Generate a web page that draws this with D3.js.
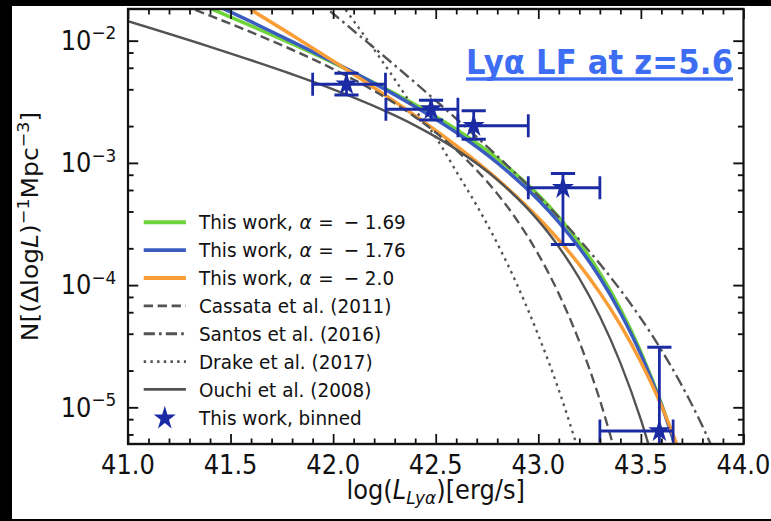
<!DOCTYPE html>
<html>
<head>
<meta charset="utf-8">
<script src="https://cdn.jsdelivr.net/npm/d3@7"></script>
<style>
  html, body { margin: 0; padding: 0; background: #000; }
  svg { display: block; }
  text { font-family: "DejaVu Sans", sans-serif; fill: #111; }
</style>
</head>
<body>
<svg id="chart" width="771" height="521"></svg>
<script>
// ---------------- tick positions ----------------
const xMajorTicks = [41.0, 41.5, 42.0, 42.5, 43.0, 43.5, 44.0];
const xMinorTicks = [41.1, 41.2, 41.3, 41.4, 41.6, 41.7, 41.8, 41.9, 42.1, 42.2, 42.3, 42.4,
                     42.6, 42.7, 42.8, 42.9, 43.1, 43.2, 43.3, 43.4, 43.6, 43.7, 43.8, 43.9];
const yMajorTicks = [1e-5, 1e-4, 1e-3, 1e-2];
const yMajorExp   = ["\u22125", "\u22124", "\u22123", "\u22122"];
const yMinorTicks = [6e-6, 8e-6, 2e-5, 4e-5, 6e-5, 8e-5, 2e-4, 4e-4, 6e-4, 8e-4,
                     2e-3, 4e-3, 6e-3, 8e-3];

// ---------------- luminosity function curves: log L  vs  N ----------------
const greenL   = [41.4, 41.6, 41.8, 42.0, 42.2, 42.4, 42.6, 42.8, 43.0, 43.1, 43.2, 43.3, 43.4, 43.5, 43.6, 43.7];
const greenN   = [1.841e-2, 1.321e-2, 9.40e-3, 6.59e-3, 4.52e-3, 3.00e-3, 1.88e-3, 1.086e-3, 5.47e-4, 3.60e-4, 2.22e-4, 1.254e-4, 6.38e-5, 2.84e-5, 1.07e-5, 3.25e-6];

const blueL    = [41.4, 41.6, 41.8, 42.0, 42.2, 42.4, 42.6, 42.8, 43.0, 43.1, 43.2, 43.3, 43.4, 43.5, 43.6, 43.7];
const blueN    = [2.056e-2, 1.429e-2, 9.84e-3, 6.70e-3, 4.47e-3, 2.88e-3, 1.77e-3, 1.00e-3, 4.98e-4, 3.27e-4, 2.02e-4, 1.151e-4, 5.93e-5, 2.70e-5, 1.045e-5, 3.31e-6];

const orangeL  = [41.5, 41.6, 41.8, 42.0, 42.2, 42.4, 42.6, 42.8, 43.0, 43.1, 43.2, 43.3, 43.4, 43.5, 43.6, 43.7];
const orangeN  = [2.265e-2, 1.789e-2, 1.109e-2, 6.82e-3, 4.12e-3, 2.43e-3, 1.38e-3, 7.35e-4, 3.55e-4, 2.34e-4, 1.467e-4, 8.66e-5, 4.73e-5, 2.34e-5, 1.029e-5, 3.87e-6];

const cassataL = [41.2, 41.4, 41.6, 41.8, 42.0, 42.2, 42.4, 42.6, 42.7, 42.8, 42.9, 43.0, 43.1, 43.2, 43.3, 43.4];
const cassataN = [2.158e-2, 1.601e-2, 1.173e-2, 8.43e-3, 5.86e-3, 3.88e-3, 2.37e-3, 1.272e-3, 8.70e-4, 5.59e-4, 3.32e-4, 1.786e-4, 8.48e-5, 3.44e-5, 1.146e-5, 2.97e-6];

const santosL  = [41.9, 42.0, 42.2, 42.4, 42.6, 42.8, 43.0, 43.1, 43.2, 43.3, 43.4, 43.5, 43.6, 43.7, 43.8, 43.9];
const santosN  = [2.286e-2, 1.661e-2, 8.72e-3, 4.52e-3, 2.30e-3, 1.138e-3, 5.37e-4, 3.59e-4, 2.35e-4, 1.491e-4, 9.12e-5, 5.33e-5, 2.94e-5, 1.503e-5, 7.01e-6, 2.92e-6];

const drakeL   = [42.0, 42.1, 42.2, 42.3, 42.4, 42.5, 42.6, 42.7, 42.8, 42.9, 43.0, 43.1, 43.2, 43.3];
const drakeN   = [2.461e-2, 1.452e-2, 8.44e-3, 4.83e-3, 2.71e-3, 1.622e-3, 8.51e-4, 4.47e-4, 2.19e-4, 9.77e-5, 3.89e-5, 1.38e-5, 4.17e-6, 1.143e-6];

const ouchiL   = [40.9, 41.0, 41.4, 41.8, 42.0, 42.2, 42.4, 42.6, 42.8, 43.0, 43.1, 43.2, 43.3, 43.4, 43.5, 43.6];
const ouchiN   = [1.622e-2, 1.442e-2, 8.90e-3, 5.31e-3, 4.00e-3, 2.91e-3, 2.02e-3, 1.29e-3, 7.29e-4, 3.37e-4, 2.054e-4, 1.134e-4, 5.53e-5, 2.31e-5, 7.91e-6, 2.12e-6];

// ---------------- binned measurements ----------------
const binL     = [42.065, 42.477, 42.685, 43.120, 43.590];
const binLlo   = [41.900, 42.257, 42.608, 42.951, 43.300];
const binLhi   = [42.255, 42.608, 42.951, 43.300, 43.657];
const binN     = [4.40e-3, 2.75e-3, 2.01e-3, 6.25e-4, 6.4e-6];
const binNlo   = [3.60e-3, 2.24e-3, 1.56e-3, 2.15e-4, 2.0e-6];
const binNhi   = [5.40e-3, 3.25e-3, 2.67e-3, 8.20e-4, 3.10e-5];

// ---------------- legend ----------------
// pieces of each entry: plain text, then (optionally) italic alpha, "=", minus sign, value
const legendLabels = [
  ["This work, ", "\u03b1", "=", "\u2212", "1.69"],
  ["This work, ", "\u03b1", "=", "\u2212", "1.76"],
  ["This work, ", "\u03b1", "=", "\u2212", "2.0"],
  ["Cassata et al. (2011)"],
  ["Santos et al. (2016)"],
  ["Drake et al. (2017)"],
  ["Ouchi et al. (2008)"],
  ["This work, binned"]
];

// ---------------- drawing ----------------
const SX = 0.93;                 // the whole figure is slightly narrowed horizontally
const VW = 771 / SX;
const P = { l: 128 / SX, r: 743.5 / SX, t: 9, b: 444 };

const svg = d3.select("#chart");
svg.append("rect").attr("width", 771).attr("height", 521).attr("fill", "#000");
const root = svg.append("g").attr("transform", `scale(${SX},1)`);
root.append("rect")
  .attr("x", 12 / SX).attr("y", 6)
  .attr("width", VW - 12 / SX).attr("height", 513)
  .attr("fill", "#fff");

const x = d3.scaleLinear().domain([41, 44]).range([P.l, P.r]);
const y = d3.scaleLog().domain([5.01e-6, 1.816e-2]).range([P.b, P.t]);

root.append("clipPath").attr("id", "plotclip")
  .append("rect").attr("x", P.l).attr("y", P.t)
  .attr("width", P.r - P.l).attr("height", P.b - P.t);

const plotArea = root.append("g").attr("clip-path", "url(#plotclip)");

const line = d3.line()
  .x(d => x(d[0])).y(d => y(d[1]))
  .curve(d3.curveMonotoneX);

const GREY = "#535353";
const series = [
  { L: greenL,   N: greenN,   color: "#6fd43a", width: 3.6, dash: null },
  { L: blueL,    N: blueN,    color: "#3a5cc0", width: 3.6, dash: null },
  { L: orangeL,  N: orangeN,  color: "#f99d36", width: 3.6, dash: null },
  { L: cassataL, N: cassataN, color: GREY, width: 2.5, dash: "10,5" },
  { L: santosL,  N: santosN,  color: GREY, width: 2.5, dash: "12,4.5,2.8,4.5" },
  { L: drakeL,   N: drakeN,   color: GREY, width: 2.5, dash: "2.6,4.6" },
  { L: ouchiL,   N: ouchiN,   color: GREY, width: 2.5, dash: null }
];

series.forEach(s => {
  plotArea.append("path")
    .datum(s.L.map((v, i) => [v, s.N[i]]))
    .attr("d", line)
    .attr("fill", "none")
    .attr("stroke", s.color)
    .attr("stroke-width", s.width)
    .attr("stroke-dasharray", s.dash);
});

// error bars + stars
const NAVY = "#1b2ba3";
const capV = 13;   // half length of caps on vertical bars
const capH = 11.5; // half length of caps on horizontal bars
const eb = plotArea.append("g").attr("stroke", NAVY).attr("stroke-width", 3).attr("fill", "none");
binL.forEach((L, i) => {
  const cx = x(L), cy = y(binN[i]);
  const x0 = x(binLlo[i]), x1 = x(binLhi[i]);
  const y0 = y(binNlo[i]), y1 = y(binNhi[i]);
  eb.append("line").attr("x1", x0).attr("x2", x1).attr("y1", cy).attr("y2", cy);
  eb.append("line").attr("x1", cx).attr("x2", cx).attr("y1", y0).attr("y2", y1);
  [x0, x1].forEach(xx => eb.append("line").attr("x1", xx).attr("x2", xx)
    .attr("y1", cy - capH).attr("y2", cy + capH));
  [y0, y1].forEach(yy => eb.append("line").attr("x1", cx - capV).attr("x2", cx + capV)
    .attr("y1", yy).attr("y2", yy));
});
const star = d3.symbol().type(d3.symbolStar).size(175);
plotArea.append("g").selectAll("path").data(binL).join("path")
  .attr("d", star)
  .attr("transform", (L, i) => `translate(${x(L)},${y(binN[i])})`)
  .attr("fill", NAVY);

// ---------------- axes (ticks pointing inwards on all four sides) ----------------
function tickLayer(axis, ticks, size, transform) {
  const g = root.append("g").attr("transform", transform)
    .call(axis.tickValues(ticks).tickSize(-size).tickFormat(""));
  g.select(".domain").remove();
  g.selectAll(".tick line").attr("stroke", "#111").attr("stroke-width", 1.9);
  g.selectAll("text").remove();
}
tickLayer(d3.axisBottom(x), xMajorTicks, 10, `translate(0,${P.b})`);
tickLayer(d3.axisBottom(x), xMinorTicks, 5.5, `translate(0,${P.b})`);
tickLayer(d3.axisTop(x), xMajorTicks, 10, `translate(0,${P.t})`);
tickLayer(d3.axisTop(x), xMinorTicks, 5.5, `translate(0,${P.t})`);
tickLayer(d3.axisLeft(y), yMajorTicks, 11, `translate(${P.l},0)`);
tickLayer(d3.axisLeft(y), yMinorTicks, 6, `translate(${P.l},0)`);
tickLayer(d3.axisRight(y), yMajorTicks, 11, `translate(${P.r},0)`);
tickLayer(d3.axisRight(y), yMinorTicks, 6, `translate(${P.r},0)`);

root.append("rect")
  .attr("x", P.l).attr("y", P.t)
  .attr("width", P.r - P.l).attr("height", P.b - P.t)
  .attr("fill", "none").attr("stroke", "#111").attr("stroke-width", 2.4);

// tick labels
root.append("g").selectAll("text").data(xMajorTicks).join("text")
  .attr("x", d => x(d)).attr("y", 474)
  .attr("text-anchor", "middle")
  .attr("font-size", 26)
  .text(d => d.toFixed(1));

const yl = root.append("g").selectAll("text").data(yMajorTicks).join("text")
  .attr("x", P.l - 12.5).attr("y", d => y(d) + 9.3)
  .attr("text-anchor", "end")
  .attr("font-size", 26);
yl.append("tspan").text("10");
yl.append("tspan").attr("dy", -10.5).attr("font-size", 18.2).text((d, i) => yMajorExp[i]);

// axis titles
const xt = root.append("text")
  .attr("x", (P.l + P.r) / 2).attr("y", 499)
  .attr("text-anchor", "middle").attr("font-size", 26);
xt.append("tspan").text("log(");
xt.append("tspan").attr("font-style", "italic").text("L");
xt.append("tspan").attr("font-style", "italic").attr("font-size", 18.2).attr("dy", 5).text("Ly\u03b1");
xt.append("tspan").attr("dy", -5).text(")[erg/s]");

const ytt = root.append("text")
  .attr("transform", `translate(${38.3 / SX},226.5) rotate(-90)`)
  .attr("text-anchor", "middle").attr("font-size", 25);
ytt.append("tspan").text("N[(\u0394log");
ytt.append("tspan").attr("font-style", "italic").text("L");
ytt.append("tspan").text(")");
ytt.append("tspan").attr("dy", -10).attr("font-size", 17.5).text("\u22121");
ytt.append("tspan").attr("dy", 10).text("Mpc");
ytt.append("tspan").attr("dy", -10).attr("font-size", 17.5).text("\u22123");
ytt.append("tspan").attr("dy", 10).text("]");

// ---------------- legend ----------------
const legX0 = 143.7 / SX, legX1 = 185.9 / SX, legTX = 198.9 / SX;
const legY0 = 222.3, legDY = 27.86;
const mathGap = [0, 1, 7, 11, 6];   // horizontal gaps around "=" and the minus sign
const lg = root.append("g");
legendLabels.forEach((parts, i) => {
  const cy = legY0 + i * legDY;
  if (i < series.length) {
    const s = series[i];
    lg.append("line")
      .attr("x1", legX0).attr("x2", legX1).attr("y1", cy).attr("y2", cy)
      .attr("stroke", s.color).attr("stroke-width", s.width + 0.3)
      .attr("stroke-dasharray", s.dash);
  } else {
    lg.append("path").attr("d", star)
      .attr("transform", `translate(${(legX0 + legX1) / 2},${cy + 1})`)
      .attr("fill", NAVY);
  }
  const t = lg.append("text").attr("x", legTX).attr("y", cy + 7.2).attr("font-size", 19.8);
  parts.forEach((p, k) => {
    const ts = t.append("tspan").text(p);
    if (k === 1) ts.attr("font-style", "italic");
    if (k >= 1) ts.attr("dx", mathGap[k]);
  });
});

// ---------------- panel title ----------------
root.append("text")
  .attr("x", 466 / SX).attr("y", 74)
  .attr("textLength", 267 / SX)
  .attr("font-family", "'Liberation Sans', Arial, sans-serif")
  .attr("font-weight", "bold")
  .attr("font-size", 33)
  .style("fill", "#3d6df2")
  .text("Ly\u03b1 LF at z=5.6");
root.append("rect")
  .attr("x", 466 / SX).attr("y", 77.3)
  .attr("width", 267 / SX).attr("height", 3.4)
  .attr("fill", "#3d6df2");
</script>
</body>
</html>
